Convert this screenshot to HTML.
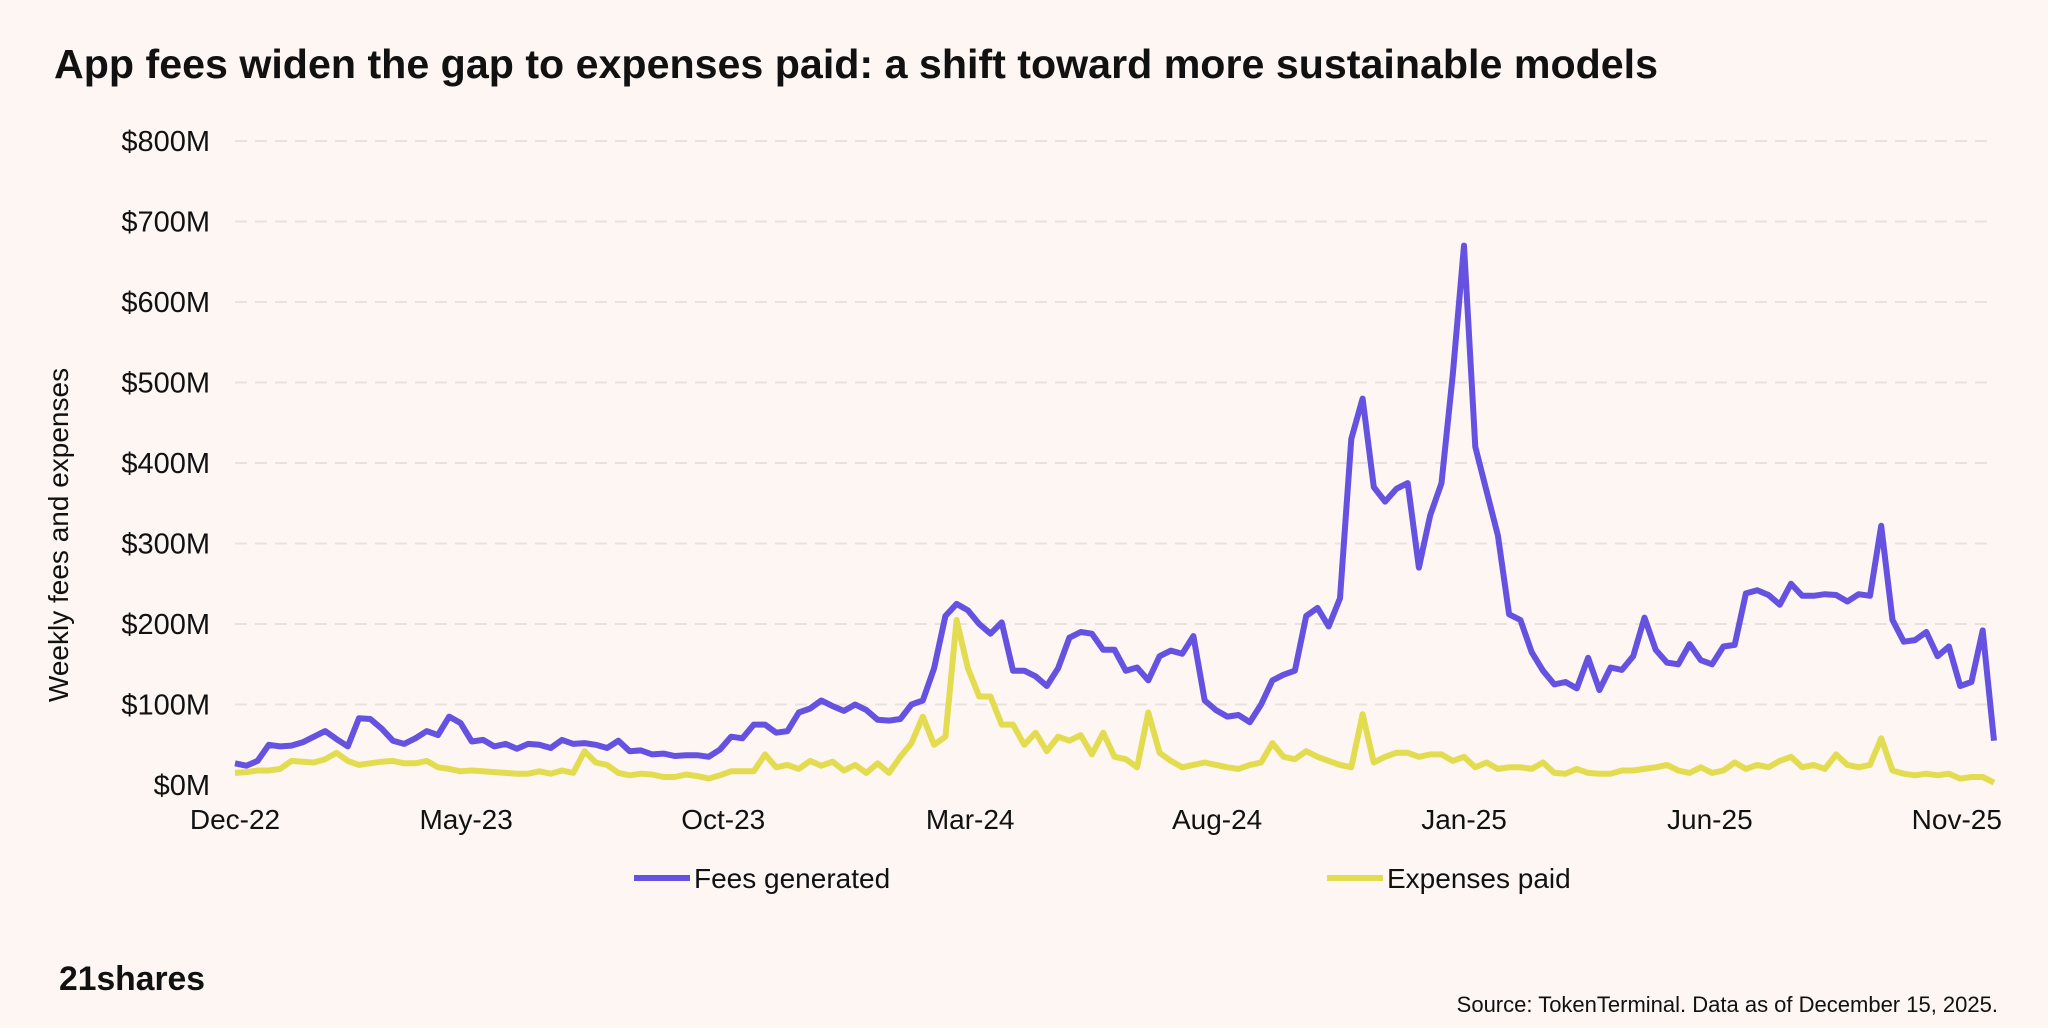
<!DOCTYPE html>
<html><head><meta charset="utf-8"><style>
html,body{margin:0;padding:0;background:#fdf6f3;}
body{width:2048px;height:1023px;position:relative;overflow:hidden;font-family:"Liberation Sans",sans-serif;color:#111;}
</style></head><body>
<svg id="chart" width="2048" height="1023" xmlns="http://www.w3.org/2000/svg">
<rect width="2048" height="1023" fill="#fdf6f3"/>
<text x="54" y="78" font-size="41" font-weight="bold" font-family="Liberation Sans, sans-serif" fill="#111" textLength="1604" lengthAdjust="spacingAndGlyphs">App fees widen the gap to expenses paid: a shift toward more sustainable models</text>
<g id="grid"></g><g id="yticks"></g><g id="xticks"></g><g id="lines"></g>
<text transform="translate(68,535) rotate(-90)" text-anchor="middle" font-size="28" fill="#111">Weekly fees and expenses</text>
<g>
<line x1="634" y1="878" x2="690" y2="878" stroke="#6552e0" stroke-width="6"/>
<text x="694" y="888" font-size="28" fill="#111">Fees generated</text></g>
<g>
<line x1="1327" y1="878" x2="1383" y2="878" stroke="#e4dc50" stroke-width="6"/>
<text x="1387" y="888" font-size="28" fill="#111">Expenses paid</text></g>
<text x="59" y="990" font-size="34" font-weight="bold" fill="#111" textLength="146" lengthAdjust="spacingAndGlyphs">21shares</text>
<text x="1998" y="1012" text-anchor="end" font-size="22" fill="#111">Source: TokenTerminal. Data as of December 15, 2025.</text>
</svg>
<script>
const yTicks=[0,100,200,300,400,500,600,700,800];
const yTickLabels=["$0M","$100M","$200M","$300M","$400M","$500M","$600M","$700M","$800M"];
const xTickLabels=["Dec-22","May-23","Oct-23","Mar-24","Aug-24","Jan-25","Jun-25","Nov-25"];
const xTickWeeks=[0,20.5,43.3,65.2,87.1,109,130.8,152.7];
const fees=[27,24,30,50,48,49,53,60,67,57,48,83,82,70,55,51,58,67,62,85,77,54,56,48,51,45,51,50,46,56,51,52,50,46,55,42,43,38,39,36,37,37,35,44,60,58,75,75,65,67,90,95,105,98,92,100,93,81,80,82,100,105,145,210,225,217,200,188,202,142,142,135,123,145,183,190,188,168,168,142,146,130,160,167,163,185,105,93,85,87,78,100,130,137,142,210,220,197,232,430,480,370,352,368,375,270,335,375,510,670,420,365,310,212,205,165,142,125,128,120,158,118,146,143,160,208,168,152,150,175,155,150,172,174,238,242,236,224,250,235,235,237,236,228,237,235,322,205,178,180,190,160,172,123,128,192,55];
const expenses=[15,16,18,18,20,30,29,28,32,40,30,25,27,29,30,27,27,30,22,20,17,18,17,16,15,14,14,17,14,18,15,42,28,25,15,12,14,13,10,10,13,11,8,12,17,17,17,38,22,25,20,30,24,29,18,25,15,27,15,35,52,85,50,60,205,145,110,110,75,75,50,65,42,60,55,62,38,65,35,32,22,90,40,30,22,25,28,25,22,20,25,28,52,35,32,42,35,30,25,22,88,28,35,40,40,35,38,38,30,35,22,28,20,22,22,20,28,15,14,20,15,14,14,18,18,20,22,25,18,15,22,15,18,28,20,25,22,30,35,22,25,20,38,25,22,25,58,18,14,12,14,12,14,8,10,10,3];
const NS="http://www.w3.org/2000/svg";
const X0=235,X1=1994,Y0=785,Y800=141;
const n=fees.length;
function xs(i){return X0+(X1-X0)*i/(n-1);}
function ys(v){return Y0-(Y0-Y800)*v/800;}
const grid=document.getElementById('grid'),yt=document.getElementById('yticks'),xt=document.getElementById('xticks'),lines=document.getElementById('lines');
yTicks.forEach((v,k)=>{
 if(v>0){const l=document.createElementNS(NS,'line');
 l.setAttribute('x1',X0);l.setAttribute('x2',X1);l.setAttribute('y1',ys(v));l.setAttribute('y2',ys(v));
 l.setAttribute('stroke','#e9e1de');l.setAttribute('stroke-width','2');l.setAttribute('stroke-dasharray','12 8');
 
 
 grid.appendChild(l);}
 const t=document.createElementNS(NS,'text');
 t.setAttribute('x',210);t.setAttribute('y',ys(v)+10);t.setAttribute('text-anchor','end');t.setAttribute('font-size','29');t.setAttribute('fill','#111');
 t.textContent=yTickLabels[k];
 
 
 yt.appendChild(t);
});
xTickLabels.forEach((s,k)=>{
 const t=document.createElementNS(NS,'text');
 t.setAttribute('x',xs(xTickWeeks[k]));t.setAttribute('y',829);t.setAttribute('text-anchor','middle');t.setAttribute('font-size','28');t.setAttribute('fill','#111');
 t.textContent=s;
 
 
 xt.appendChild(t);
});
function draw(arr,color,name){
 const p=document.createElementNS(NS,'polyline');
 p.setAttribute('points',arr.map((v,i)=>xs(i).toFixed(1)+','+ys(v).toFixed(1)).join(' '));
 p.setAttribute('fill','none');p.setAttribute('stroke',color);p.setAttribute('stroke-width','6');p.setAttribute('stroke-linejoin','round');
 
 
 lines.appendChild(p);
}
draw(expenses,'#e4dc50','expenses-line');
draw(fees,'#6552e0','fees-line');
</script>
</body></html>
